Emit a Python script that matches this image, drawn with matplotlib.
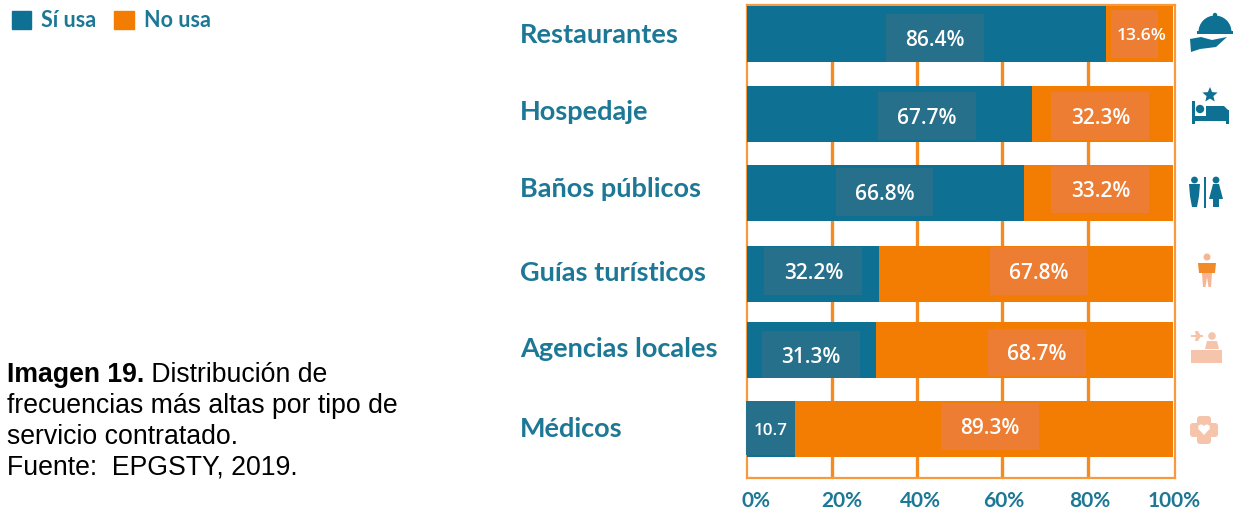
import math
import matplotlib
matplotlib.use("Agg")
import matplotlib.pyplot as plt
from matplotlib.patches import Rectangle, Circle, Wedge, Polygon, FancyBboxPatch

# ---- data ----
categories = ["Restaurantes", "Hospedaje", "Baños públicos", "Guías turísticos", "Agencias locales", "Médicos"]
# bar lengths as drawn in the picture (they differ slightly from the printed labels)
si_usa = [84.2, 66.9, 65.0, 31.1, 30.2, 11.2]
no_usa = [15.8, 33.1, 35.0, 68.9, 69.8, 88.8]
si_text = ["86.4%", "67.7%", "66.8%", "32.2%", "31.3%", "10.7"]
no_text = ["13.6%", "32.3%", "33.2%", "67.8%", "68.7%", "89.3%"]
tick_values = [0, 20, 40, 60, 80, 100]
tick_labels = ["0%", "20%", "40%", "60%", "80%", "100%"]
series_names = ["Sí usa", "No usa"]
caption_bold = "Imagen 19."
caption_lines = [" Distribución de", "frecuencias más altas por tipo de", "servicio contratado.", "Fuente:  EPGSTY, 2019."]

# ---- layout (hand-placed, as in the source picture) ----
bar_rows = [0, 1.013, 2.013, 3.038, 4.006, 5]
name_rows = [-0.013, 0.962, 1.937, 3.0, 3.962, 4.975]
si_label_x = [44.2, 42.3, 32.3, 15.6, 15.1, 5.6]
no_label_x = [92.7, 83.0, 83.0, 68.6, 68.1, 57.1]
si_label_row = [0.05, 1.04, 2.0, 3.0, 4.06, 4.99]
no_label_row = [0.0, 1.04, 1.97, 3.0, 4.03, 4.97]
si_box_w = [23, 23, 23, 23, 23, 11.5]
no_box_w = [11, 23, 23, 23, 23, 23]
no_box_x = [91.0, 83.0, 83.0, 68.6, 68.1, 57.1]
tick_label_x = [2.0, 22.2, 40.7, 60.4, 80.5, 100.4]
caption_y = [382, 413, 444, 474]

TEAL = "#0E7092"
ORANGE = "#F27D02"
TEAL_BOX = "#26708B"
ORANGE_BOX = "#EC7D32"
LINE = "#F79A3E"
INK = "#1D7896"
PALE = "#F6C4AA"
GUIDE = "#F6B593"
W, H = 1239, 511
CAP = 19.2
TEXT_DROP = 0.03

fig = plt.figure(figsize=(W / 100, H / 100), dpi=100, facecolor="white")

# pixel-space layer for icons and caption
bg = fig.add_axes([0, 0, 1, 1])
bg.set_xlim(0, W)
bg.set_ylim(H, 0)
bg.axis("off")

# chart
ax = fig.add_axes([747 / W, (H - 477.5) / H, 427.5 / W, 472.5 / H])
ax.set_xlim(0, 100)
ax.set_ylim(5.614, -0.367)
bar_h = 56 / 79
ax.vlines(tick_values[1:-1], 5.614, -0.367, color="#F58A1F", lw=2.4, zorder=1)
ax.barh(bar_rows, si_usa, height=bar_h, color=TEAL, zorder=2)
ax.barh(bar_rows, no_usa, left=si_usa, height=bar_h, color=ORANGE, zorder=2)
for i in range(len(categories)):
    bh = 0.6 if i != 5 else bar_h * 0.96
    ax.add_patch(Rectangle((si_label_x[i] - si_box_w[i] / 2, si_label_row[i] - bh / 2), si_box_w[i], bh,
                           color=TEAL_BOX, lw=0, zorder=3, clip_on=False))
    ax.add_patch(Rectangle((no_box_x[i] - no_box_w[i] / 2, no_label_row[i] - 0.3), no_box_w[i], 0.6,
                           color=ORANGE_BOX, lw=0, zorder=3))
    ax.text(si_label_x[i], si_label_row[i] + TEXT_DROP, si_text[i], color="white", fontsize=12.2 if i == 5 else 15,
            ha="center", va="center", family="Open Sans", fontweight="semibold", zorder=4)
    ax.text(no_label_x[i], no_label_row[i] + TEXT_DROP, no_text[i], color="white", fontsize=12.6 if i == 0 else 15,
            ha="center", va="center", family="Open Sans", fontweight="semibold", zorder=4)
for s in ax.spines.values():
    s.set_color(LINE)
    s.set_linewidth(1.6)
    s.set_zorder(1.5)
ax.set_xticks(tick_label_x)
ax.set_xticklabels(tick_labels, color=INK, fontsize=15, family="Lato", fontweight="bold")
ax.tick_params(axis="x", length=0, pad=9.5)
ax.set_yticks(name_rows)
ax.set_yticklabels(categories, color=INK, fontsize=19.5, family="Lato", fontweight="bold", ha="left")
ax.tick_params(axis="y", length=0, pad=163.5)
ax.set_facecolor("white")

# legend
handles = [Rectangle((0, 0), 1, 1, color=TEAL), Rectangle((0, 0), 1, 1, color=ORANGE)]
leg = fig.legend(handles, series_names, loc="upper left", bbox_to_anchor=(12 / W, 1 - 10 / H), ncols=2, frameon=False,
                 borderpad=0, borderaxespad=0, handlelength=0.9, handleheight=0.9, handletextpad=0.45,
                 columnspacing=0.85, prop={"family": "Lato", "weight": "bold", "size": 15.5})
for t in leg.get_texts():
    t.set_color(INK)

# caption
cap = bg.text(7, caption_y[0], caption_bold, fontsize=CAP, family="Liberation Sans", fontweight="bold", color="black",
              va="baseline")
fig.canvas.draw()
bb = cap.get_window_extent()
bg.text(bb.x1, caption_y[0], caption_lines[0], fontsize=CAP, family="Liberation Sans", color="black", va="baseline")
for y, line in zip(caption_y[1:], caption_lines[1:]):
    bg.text(7, y, line, fontsize=CAP, family="Liberation Sans", color="black", va="baseline")

# ---- icons ----
def R(x, y, w, h, c):
    bg.add_patch(Rectangle((x, y), w, h, color=c, lw=0))
def C(x, y, r, c):
    bg.add_patch(Circle((x, y), r, color=c, lw=0))
def P(pts, c):
    bg.add_patch(Polygon(pts, closed=True, color=c, lw=0))
def star(x, y, r, c):
    pts = []
    for k in range(10):
        rr = r if k % 2 == 0 else r * 0.45
        a = math.radians(-90 + k * 36)
        pts.append((x + rr * math.cos(a), y + rr * math.sin(a)))
    P(pts, c)

# cloche on a hand
bg.add_patch(Wedge((1215, 32), 16.5, 180, 360, color=TEAL, lw=0))
C(1215, 15, 2.2, TEAL)
R(1197, 31, 36, 3, TEAL)
P([(1190, 39), (1201, 37), (1212, 40), (1227, 37), (1216, 47), (1200, 49), (1191, 52)], TEAL)

# bed with star
star(1210, 95, 8, TEAL)
R(1192, 101, 3, 23, TEAL)
R(1226, 110, 3, 14, TEAL)
R(1192, 116, 37, 5, TEAL)
C(1200, 109, 4.2, TEAL)
P([(1206, 106), (1224, 106), (1229, 111), (1229, 116), (1206, 116)], TEAL)

# washroom
C(1194.5, 180, 3.4, TEAL)
P([(1189, 184), (1200, 184), (1199, 196), (1197, 207), (1192, 207), (1190, 196)], TEAL)
R(1204, 177, 1.8, 31, TEAL)
C(1216, 180, 3.4, TEAL)
P([(1213, 184), (1219, 184), (1223, 199), (1219, 199), (1219, 207), (1213, 207), (1213, 199), (1209, 199)], TEAL)

# guide
C(1207, 257, 3.5, GUIDE)
P([(1198, 263), (1216, 263), (1215, 273), (1199, 273)], "#F28A2A")
P([(1202, 273), (1212, 273), (1211, 287), (1208.5, 287), (1207, 277), (1205.5, 287), (1203, 287)], GUIDE)

# agency desk
R(1191, 350, 31, 13, PALE)
C(1212, 336, 3.8, PALE)
P([(1205, 349), (1207, 341), (1217, 341), (1219, 349)], PALE)
P([(1191, 335), (1203, 335), (1203, 337), (1191, 337)], PALE)
P([(1195, 331), (1198, 331), (1201, 336), (1198, 341), (1195, 341), (1196, 336)], PALE)

# medical cross with heart
bg.add_patch(FancyBboxPatch((1197, 416), 14, 28, boxstyle="round,pad=0,rounding_size=3", color=PALE, lw=0))
bg.add_patch(FancyBboxPatch((1190, 423), 28, 14, boxstyle="round,pad=0,rounding_size=3", color=PALE, lw=0))
C(1201.2, 427.5, 3, "white")
C(1206.8, 427.5, 3, "white")
P([(1198.5, 429), (1209.5, 429), (1204, 435)], "white")

fig.savefig("out.png", dpi=100, facecolor="white")
